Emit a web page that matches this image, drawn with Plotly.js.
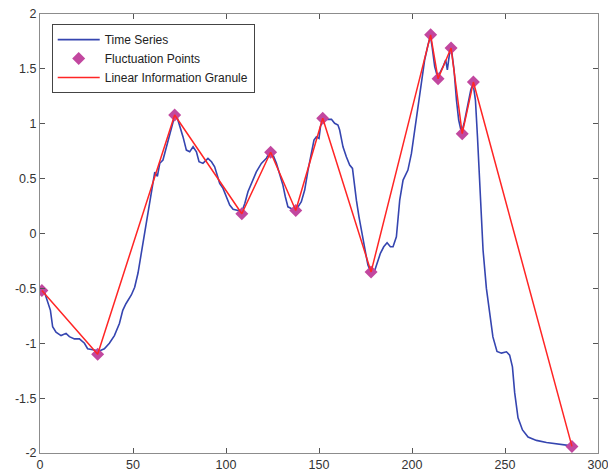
<!DOCTYPE html>
<html>
<head>
<meta charset="utf-8">
<script src="https://cdn.plot.ly/plotly-3.0.1.min.js"></script>
<style>html,body{margin:0;padding:0;background:#fff;}#chart{width:608px;height:472px;}</style>
</head>
<body>
<div id="chart"></div>
<script>
// Time series
const seriesX = [0,1,2,2.7,5.6,6.8,8.6,11.3,14,15.8,18.5,21.2,23.9,25.6,29.2,31.9,34.6,37.3,40,42.7,44.5,46.2,49.1,50.9,52.7,54.5,56.3,58.1,59.9,61.7,63.1,64.4,66.1,68,69.7,71.2,72.4,73.7,75.1,76.9,78.7,80.5,82.3,84.1,85.5,87.6,90.3,92.2,93.9,95.4,96.6,98.4,100.2,102,103.8,106.5,108.3,110.1,111.8,113.7,116.3,119,121.7,123.5,125.3,127.1,128.9,130.6,131.9,133.3,136,138.7,140.5,142.3,144.1,145.9,147.3,148.6,150,150.8,152.2,154,156.7,158.4,160.2,161.1,162.9,164.7,166.5,168,168.8,170.1,171.5,173.3,175.1,176.3,177.6,180,181.2,183,184.8,186.6,188.4,189.8,191.6,193,193.4,195.2,197.8,199.7,201.5,203.2,205,206.8,208.6,209.9,210.8,212.2,213.7,214.9,216.7,218.1,219,220.3,221.2,222.6,223.9,225.1,226.6,228,229.8,231.6,232.8,234.1,235.2,236.4,237.4,238.2,240,241.8,243.5,245.7,248.1,250.8,252.5,254,255.2,257,259.4,262.4,266.9,272.3,279.4,284.8,286];
const seriesY = [-0.52,-0.51,-0.5,-0.55,-0.70,-0.85,-0.90,-0.93,-0.91,-0.94,-0.96,-0.96,-1.0,-1.05,-1.06,-1.07,-1.05,-1.0,-0.93,-0.82,-0.70,-0.64,-0.56,-0.49,-0.36,-0.18,0.0,0.21,0.40,0.56,0.52,0.64,0.67,0.79,0.91,1.0,1.07,1.06,0.99,0.88,0.76,0.745,0.79,0.745,0.654,0.639,0.685,0.654,0.608,0.517,0.457,0.411,0.335,0.259,0.22,0.21,0.19,0.274,0.38,0.457,0.562,0.639,0.685,0.745,0.715,0.639,0.532,0.441,0.335,0.243,0.22,0.243,0.289,0.396,0.578,0.73,0.851,0.881,0.867,0.973,1.049,1.04,1.04,1.004,0.988,0.943,0.79,0.699,0.624,0.593,0.457,0.304,0.152,0.0,-0.181,-0.288,-0.34,-0.334,-0.273,-0.181,-0.121,-0.085,-0.121,-0.121,-0.03,0.183,0.304,0.487,0.578,0.73,0.943,1.186,1.398,1.581,1.717,1.80,1.702,1.52,1.428,1.459,1.52,1.581,1.49,1.656,1.68,1.49,1.216,1.034,0.92,1.004,1.155,1.307,1.37,1.216,0.881,0.5,0.2,-0.151,-0.5,-0.75,-0.942,-1.075,-1.09,-1.078,-1.108,-1.215,-1.45,-1.68,-1.79,-1.855,-1.885,-1.905,-1.918,-1.928,-1.935];

// Fluctuation points
const fluctX = [1,31,72.4,108.5,124,137.5,152,178,210,214,221,227,233,286];
const fluctY = [-0.52,-1.1,1.08,0.18,0.74,0.21,1.05,-0.35,1.81,1.41,1.69,0.91,1.38,-1.94];

// Tick labels
const xTickVals = [0,50,100,150,200,250,300];
const xTickText = ['0','50','100','150','200','250','300'];
const yTickVals = [-2,-1.5,-1,-0.5,0,0.5,1,1.5,2];
const yTickText = ['-2','-1.5','-1','-0.5','0','0.5','1','1.5','2'];

const names = ['Time Series','Fluctuation Points','Linear Information Granule'];

const traces = [
  {x: seriesX, y: seriesY, mode: 'lines', name: names[0],
   line: {color: '#3545b0', width: 1.6}},
  {x: fluctX, y: fluctY, mode: 'markers', name: names[1],
   marker: {symbol: 'diamond', size: 10, color: '#c2479f', line: {width: 0}}},
  {x: fluctX, y: fluctY, mode: 'lines', name: names[2],
   line: {color: '#ff2525', width: 1.5}}
];

const axisCommon = {
  showgrid: false, zeroline: false, showline: true, linecolor: '#8c8c8c', linewidth: 1,
  mirror: 'ticks', ticks: 'inside', ticklen: 5, tickcolor: '#555', tickwidth: 1,
  tickfont: {family: 'Liberation Sans, Arial, sans-serif', size: 12.5, color: '#333'},
  automargin: false, ticklabeloverflow: 'allow'
};

const layout = {
  width: 608, height: 472,
  margin: {l: 40, r: 10, t: 14, b: 19},
  paper_bgcolor: '#fff', plot_bgcolor: '#fff',
  showlegend: true,
  xaxis: Object.assign({}, axisCommon, {range: [0, 300], tickvals: xTickVals, ticktext: xTickText}),
  yaxis: Object.assign({}, axisCommon, {range: [-2, 2], tickvals: yTickVals, ticktext: yTickText}),
  legend: {x: 0.021, y: 0.977, xanchor: 'left', yanchor: 'top',
    bgcolor: '#fff', bordercolor: '#444', borderwidth: 1,
    font: {family: 'Liberation Sans, Arial, sans-serif', size: 12, color: '#222'},
    itemwidth: 42, tracegroupgap: 0}
};

Plotly.newPlot('chart', traces, layout, {staticPlot: true, displayModeBar: false});
</script>
</body>
</html>
